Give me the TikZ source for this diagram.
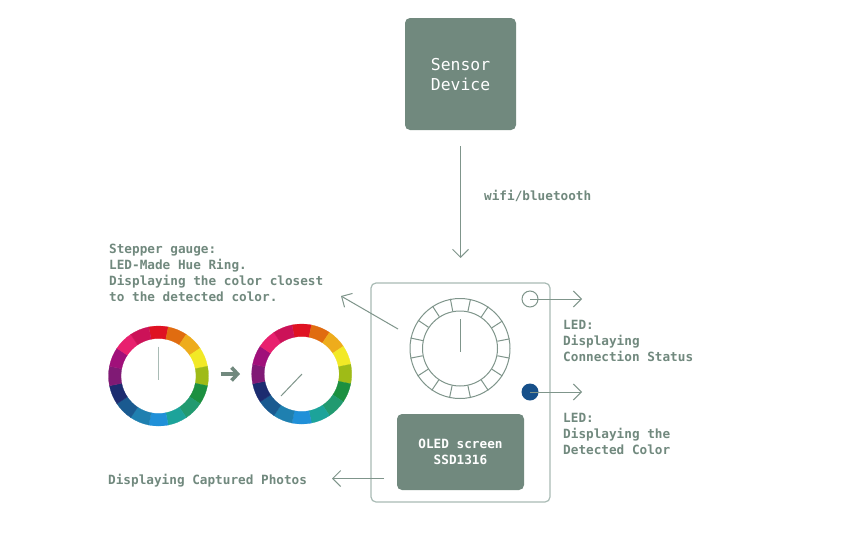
\documentclass[tikz,border=0pt]{standalone}
\usepackage{fontspec}
\setmainfont{DejaVu Sans Mono}
\usetikzlibrary{arrows.meta}
\definecolor{sage}{HTML}{71897E}
\definecolor{sagetxt}{HTML}{71897E}
\definecolor{wire}{HTML}{7F958B}
\definecolor{pale}{HTML}{A9BBB5}
\definecolor{ledblue}{HTML}{17508A}
\definecolor{hA}{HTML}{DF1222}
\definecolor{hB}{HTML}{E06C10}
\definecolor{hC}{HTML}{EEAC1C}
\definecolor{hD}{HTML}{F2E926}
\definecolor{hE}{HTML}{9FBB17}
\definecolor{hF}{HTML}{1C9040}
\definecolor{hG}{HTML}{229A70}
\definecolor{hH}{HTML}{1CA39A}
\definecolor{hI}{HTML}{2090D8}
\definecolor{hJ}{HTML}{1F80B0}
\definecolor{hK}{HTML}{1A5A90}
\definecolor{hL}{HTML}{1C2C70}
\definecolor{hM}{HTML}{801A75}
\definecolor{hN}{HTML}{A0107A}
\definecolor{hO}{HTML}{E8206E}
\definecolor{hP}{HTML}{CC1258}
\tikzset{
  x=1pt,y=-1pt,
  panel/.style={fill=sage,draw=none,rounded corners=5pt,inner sep=0pt,text=white,align=center},
  shell/.style={draw=pale,line width=1.2pt,rounded corners=5pt,inner sep=0pt,fill=none},
  caption/.style={text=sagetxt,font=\fontsize{12.7}{16}\selectfont\bfseries,inner sep=0pt,align=left},
  callout/.style={draw=wire,line width=1pt,-{Straight Barb[length=8pt,width=16pt,line width=1pt]}},
  dial/.style={circle,draw=wire,line width=1pt,inner sep=0pt,fill=none},
  tick/.style={draw=wire,line width=1pt},
  needle/.style={draw=wire,line width=1pt}
}
\newcommand{\huering}[2]{%
  \foreach \c [count=\i from 0] in {hA,hB,hC,hD,hE,hF,hG,hH,hI,hJ,hK,hL,hM,hN,hO,hP}{%
    \pgfmathsetmacro{\ang}{-90+22.5*\i-11.25}
    \pgfmathsetmacro{\angb}{\ang+22.5}
    \fill[\c,draw=\c,line width=0.25pt,shift={(#1,#2)}] (\ang:50) arc[start angle=\ang,end angle=\angb,radius=50] -- (\angb:37.5) arc[start angle=\angb,end angle=\ang,radius=37.5] -- cycle;
  }}
\begin{document}
\begin{tikzpicture}
\useasboundingbox[fill=white] (0,0) rectangle (842,536);
% sensor
\node[panel,minimum width=111pt,minimum height=112pt,font=\fontsize{16.4}{20}\selectfont] (sensor) at (460.5,74) {\rule{0pt}{12.4pt}Sensor\\Device};
\coordinate (linkstart) at (460.5,146);
\coordinate (linkend) at (460.5,258);
\draw[callout] (linkstart) -- (linkend);
\node[caption,anchor=west] (wifi) at (484,195.5) {wifi/bluetooth};
% device
\node[shell,minimum width=179pt,minimum height=219pt] (device) at (460.5,392.5) {};
\node[panel,minimum width=127pt,minimum height=76pt,font=\fontsize{12.7}{16}\selectfont\bfseries] (oled) at (460.5,452) {OLED screen\\SSD1316};
% gauge
\node[dial,minimum size=100pt] (gaugeouter) at (460,348.5) {};
\node[dial,minimum size=75pt] (gaugeinner) at (460,348.5) {};
\foreach \k in {0,...,15}{
  \pgfmathsetmacro{\t}{-90+11.25+22.5*\k}
  \draw[tick] (gaugeinner.\t) -- (gaugeouter.\t);
}
\coordinate (gaugetip) at (460.5,319);
\coordinate (gaugebase) at (460.5,352);
\draw[needle] (gaugetip) -- (gaugebase);
% LEDs
\node[circle,draw=wire,line width=1pt,inner sep=0pt,minimum size=16pt] (ledstatus) at (530,299) {};
\node[circle,fill=ledblue,inner sep=0pt,minimum size=17pt] (ledcolor) at (530,392) {};
\coordinate (statusend) at (582,299);
\coordinate (colorend) at (582,392);
\draw[callout] (ledstatus.center) -- (statusend);
\draw[callout] (ledcolor.center) -- (colorend);
\node[caption,anchor=north west] (statuslabel) at (563,320) {LED:\\Displaying\\Connection Status};
\node[caption,anchor=north west] (colorlabel) at (563,413) {LED:\\Displaying the\\Detected Color};
% stepper callout
\coordinate (steppera) at (398,329);
\coordinate (stepperb) at (341,296);
\draw[callout] (steppera) -- (stepperb);
\node[caption,anchor=north west] (stepperlabel) at (109,243.5) {Stepper gauge:\\LED-Made Hue Ring.\\Displaying the color closest\\to the detected color.};
% oled callout
\coordinate (photoa) at (384,478.5);
\coordinate (photob) at (332,478.5);
\draw[callout] (photoa) -- (photob);
\node[caption,anchor=west] (photolabel) at (108,481) {Displaying Captured Photos};
% hue rings
\huering{158.5}{376}
\huering{301.7}{374}
\coordinate (needleatop) at (158.7,346.5);
\coordinate (needleabot) at (158.7,380);
\draw[draw=pale,line width=1.5pt] (needleatop) -- (needleabot);
\coordinate (needlebtop) at (302,374);
\coordinate (needlebbot) at (281,396);
\draw[needle] (needlebtop) -- (needlebbot);
\coordinate (movea) at (220.5,374);
\coordinate (moveb) at (240,374);
\draw[draw=sage,line width=3.6pt,-{Straight Barb[length=6pt,width=13pt,line width=3.6pt]}] (movea) -- (moveb);
\end{tikzpicture}
\end{document}
